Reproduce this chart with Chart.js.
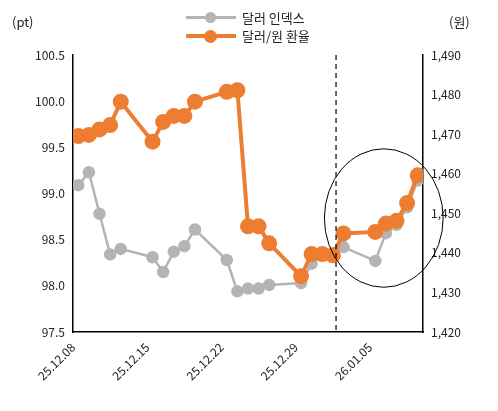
<!DOCTYPE html>
<html><head><meta charset="utf-8">
<script src="https://cdn.jsdelivr.net/npm/chart.js@4"></script>
<style>
body{margin:0;background:#fff;font-family:"Noto Sans CJK KR","Noto Sans",sans-serif;}
#wrap{position:relative;width:498px;height:411px;}
.lg{position:absolute;left:186px;font-size:13px;color:#222;display:flex;align-items:center;}
.lg span.m{display:inline-block;position:relative;width:50px;height:0;margin-right:6px;}
.unit{position:absolute;top:12px;font-size:13px;color:#222;}
</style></head>
<body><div id="wrap">
<canvas id="c" width="498" height="411"></canvas>
<div class="unit" style="left:12px">(pt)</div>
<div class="unit" style="left:449px">(원)</div>
<div class="lg" style="top:8px"><span class="m" style="border-top:3px solid #b4b4b4"><i style="position:absolute;left:19px;top:-7px;width:11px;height:11px;border-radius:50%;background:#b4b4b4"></i></span>달러 인덱스</div>
<div class="lg" style="top:26px"><span class="m" style="border-top:4px solid #ed7d31"><i style="position:absolute;left:18px;top:-8px;width:13px;height:13px;border-radius:50%;background:#ed7d31"></i></span>달러/원 환율</div>
</div>
<script>
// day offsets from 2025-12-08 (weekdays)
const days = [0,1,2,3,4, 7,8,9,10,11, 14,15,16,17,18, 21,22,23,24,25, 28,29,30,31,32];
const dollarIndex = [99.09,99.23,98.78,98.34,98.40, 98.31,98.15,98.37,98.43,98.61, 98.28,97.94,97.97,97.97,98.01, 98.03,98.24,98.33,98.35,98.42, 98.27,98.57,98.66,98.85,99.14];
const usdKrw = [1469.5,1469.8,1471.2,1472.3,1478.2, 1468.1,1473.1,1474.6,1474.6,1478.2, 1480.7,1481.1,1446.7,1446.7,1442.4, 1434.1,1439.7,1439.7,1439.4,1444.9, 1445.3,1447.4,1448.1,1452.6,1459.6];
const tickDays = [-0.5,6.5,13.5,20.5,27.5];
const tickLabels = ["25.12.08","25.12.15","25.12.22","25.12.29","26.01.05"];
const dashedDay = 24.3;

const extras = {
  id: "extras",
  afterDatasetsDraw(chart) {
    const { ctx, chartArea, scales } = chart;
    const x = scales.x.getPixelForValue(dashedDay);
    ctx.save();
    ctx.strokeStyle = "#000";
    ctx.lineWidth = 1.2;
    ctx.setLineDash([5, 4]);
    ctx.beginPath();
    ctx.moveTo(x, chartArea.top);
    ctx.lineTo(x, chartArea.bottom);
    ctx.stroke();
    ctx.setLineDash([]);
    const cx = scales.x.getPixelForValue(28.8);
    const cy = scales.y2.getPixelForValue(1448.8);
    const rx = scales.x.getPixelForValue(34.4) - cx;
    const ry = scales.y2.getPixelForValue(1431.3) - cy;
    ctx.lineWidth = 1;
    ctx.beginPath();
    ctx.ellipse(cx, cy, rx, ry, 0, 0, Math.PI * 2);
    ctx.stroke();
    ctx.restore();
  }
};

const tickFont = { size: 12, family: "Noto Sans CJK KR" };

new Chart(document.getElementById("c"), {
  type: "line",
  data: {
    datasets: [
      { label: "달러/원 환율", data: days.map((d, i) => ({ x: d, y: usdKrw[i] })), yAxisID: "y2",
        borderColor: "#ed7d31", backgroundColor: "#ed7d31", borderWidth: 4, pointRadius: 6, tension: 0 },
      { label: "달러 인덱스", data: days.map((d, i) => ({ x: d, y: dollarIndex[i] })), yAxisID: "y",
        borderColor: "#b4b4b4", backgroundColor: "#b4b4b4", borderWidth: 2.5, pointRadius: 5, tension: 0 }
    ]
  },
  options: {
    responsive: false,
    animation: false,
    layout: { padding: { top: 55, left: 4, right: 6, bottom: 4 } },
    plugins: { legend: { display: false }, tooltip: { enabled: false } },
    scales: {
      x: {
        type: "linear", min: -0.5, max: 32.5,
        afterBuildTicks(s) { s.ticks = tickDays.map(v => ({ value: v })); },
        afterFit(s) { s.height = 75; },
        ticks: { callback: (v) => tickLabels[tickDays.indexOf(v)] ?? "", maxRotation: 45, minRotation: 45,
                 color: "#222", font: tickFont },
        grid: { display: false, drawTicks: true, tickLength: 5, tickColor: "#000" },
        border: { color: "#000", width: 1.5 }
      },
      y: {
        position: "left", min: 97.5, max: 100.5,
        afterFit(s) { s.width = 69; },
        ticks: { stepSize: 0.5, callback: v => v.toFixed(1), color: "#222", font: tickFont },
        grid: { display: false, drawTicks: true, tickLength: 5, tickColor: "#000" },
        border: { color: "#000", width: 1.5 }
      },
      y2: {
        position: "right", min: 1420, max: 1490,
        afterFit(s) { s.width = 69; },
        ticks: { stepSize: 10, callback: v => v.toLocaleString("en-US"), color: "#222", font: tickFont },
        grid: { display: false, drawTicks: true, tickLength: 5, tickColor: "#000" },
        border: { color: "#000", width: 1.5 }
      }
    }
  },
  plugins: [extras]
});
</script>
</body></html>
